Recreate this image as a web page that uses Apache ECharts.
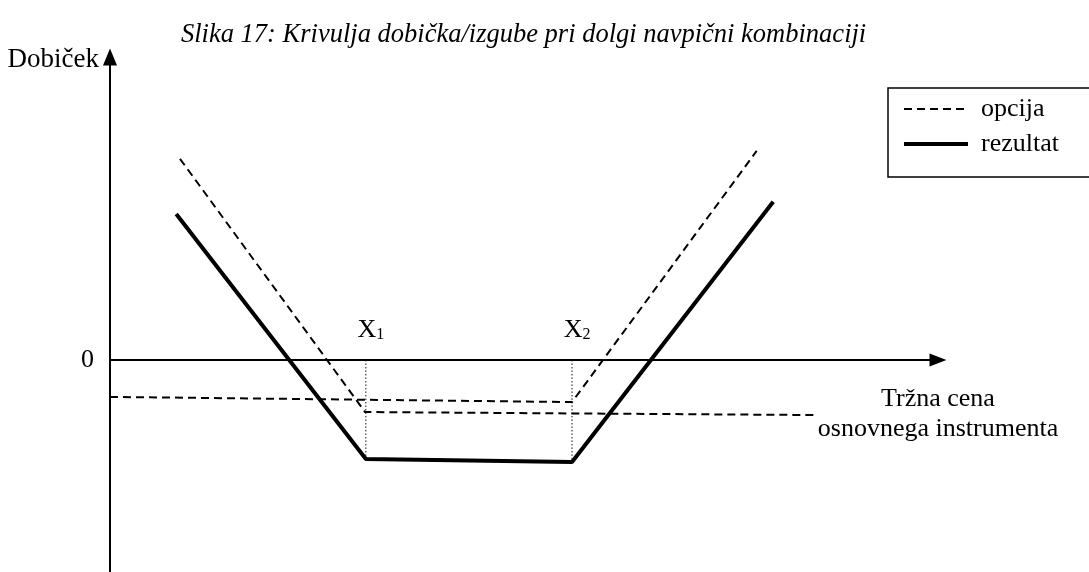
<!DOCTYPE html>
<html>
<head>
<meta charset="utf-8">
<script src="https://cdn.jsdelivr.net/npm/echarts@6/dist/echarts.min.js"></script>
<style>
  html, body { margin: 0; padding: 0; background: #fff; }
  #chart { width: 1089px; height: 572px; }
</style>
</head>
<body>
<div id="chart"></div>
<script>
// values (price axis 0..100, profit axis -7..10)
const rezultat = [[8.0, 4.82], [30.9, -3.27], [55.8, -3.37], [80.1, 5.22]];
const opcijaPut = [[8.45, 6.64], [30.8, -1.72], [85.5, -1.82]];
const opcijaCall = [[0, -1.22], [55.8, -1.39], [78.1, 6.9]];
const strikeX1 = [[30.9, 0], [30.9, -3.27]];
const strikeX2 = [[55.8, 0], [55.8, -3.37]];
const strikeLabels = ['X1', 'X2'];

const FONT = 'Liberation Serif';

const dashed = { color: '#000', width: 2, type: [8, 5] };
const solid = { color: '#000', width: 4 };

const strikeSeries = (name, pts, sub) => ({
    name,
    type: 'line',
    symbol: 'circle',
    symbolSize: 0.1,
    showSymbol: true,
    silent: true,
    itemStyle: { color: 'transparent' },
    lineStyle: { color: '#111', width: 1, type: [1.5, 2] },
    data: [
        {
            value: pts[0],
            label: {
                show: true,
                position: 'top',
                distance: 17,
                offset: [5, 0],
                formatter: `{a|X}{b|${sub}}`,
                rich: {
                    a: { fontFamily: FONT, fontSize: 26, color: '#000', lineHeight: 26, verticalAlign: 'top', padding: [0, 0, 3, 0] },
                    b: { fontFamily: FONT, fontSize: 16, color: '#000', lineHeight: 16, verticalAlign: 'bottom' }
                }
            }
        },
        pts[1]
    ]
});

const chart = echarts.init(document.getElementById('chart'));
chart.setOption({
    animation: false,
    color: ['#000'],
    title: {
        text: 'Slika 17: Krivulja dobička/izgube pri dolgi navpični kombinaciji',
        left: 176,
        top: 17,
        textStyle: { fontFamily: FONT, fontStyle: 'italic', fontWeight: 'normal', fontSize: 26.5, color: '#000' }
    },
    legend: {
        data: [
            { name: 'opcija', lineStyle: dashed },
            { name: 'rezultat', lineStyle: solid }
        ],
        orient: 'vertical',
        left: 888,
        top: 88,
        itemWidth: 64,
        itemHeight: 14,
        itemGap: 5,
        padding: [6, 60, 18, 14],
        borderColor: '#000',
        borderWidth: 1.5,
        selectedMode: false,
        itemStyle: { opacity: 0 },
        textStyle: { fontFamily: FONT, fontSize: 26, color: '#000', lineHeight: 30, padding: [0, 0, 0, 8] }
    },
    grid: { left: 110, right: 151, top: 57, bottom: 0 },
    xAxis: {
        type: 'value',
        min: 0,
        max: 100,
        name: 'Tržna cena\nosnovnega instrumenta',
        nameLocation: 'end',
        nameGap: 0,
        nameTextStyle: {
            fontFamily: FONT, fontSize: 26, color: '#000', lineHeight: 30,
            align: 'center', verticalAlign: 'top', padding: [24, 0, 0, 0]
        },
        axisLine: { onZero: true, lineStyle: { color: '#000', width: 2 }, symbol: ['none', 'triangle'], symbolSize: [13, 17] },
        axisTick: { show: false },
        axisLabel: { show: false },
        splitLine: { show: false }
    },
    yAxis: {
        type: 'value',
        min: -7,
        max: 10,
        name: 'Dobiček',
        nameLocation: 'end',
        nameGap: -3,
        nameTextStyle: {
            fontFamily: FONT, fontSize: 27, color: '#000',
            align: 'right', verticalAlign: 'middle', padding: [0, 11, 0, 0]
        },
        axisLine: { show: true, lineStyle: { color: '#000', width: 2 }, symbol: ['none', 'triangle'], symbolSize: [14, 17] },
        axisTick: { show: false },
        axisLabel: { customValues: [0], fontFamily: FONT, fontSize: 26, color: '#000', margin: 16 },
        splitLine: { show: false }
    },
    series: [
        { name: 'opcija', type: 'line', symbol: 'none', lineStyle: dashed, data: opcijaPut },
        { name: 'opcija', type: 'line', symbol: 'none', lineStyle: dashed, data: opcijaCall },
        { name: 'rezultat', type: 'line', symbol: 'none', lineStyle: solid, data: rezultat },
        strikeSeries('X1', strikeX1, strikeLabels[0].slice(1)),
        strikeSeries('X2', strikeX2, strikeLabels[1].slice(1))
    ]
});
</script>
</body>
</html>
